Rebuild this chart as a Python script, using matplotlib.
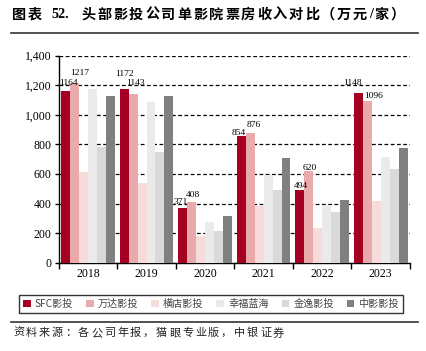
import matplotlib.pyplot as plt
import numpy as np
from matplotlib.lines import Line2D

years = ['2018', '2019', '2020', '2021', '2022', '2023']
companies = ['SFC影投', '万达影投', '横店影投', '幸福蓝海', '金逸影投', '中影影投']
sfc = [1164, 1172, 371, 854, 494, 1148]
wanda = [1217, 1143, 408, 876, 620, 1096]
hengdian = [615, 539, 178, 383, 237, 415]
xingfu = [1175, 1086, 273, 593, 392, 714]
jinyi = [784, 748, 214, 491, 343, 636]
zhongying = [1129, 1129, 316, 706, 424, 777]
colors = ['#A50021', '#E8AAAA', '#F7DADA', '#EAEAEA', '#D9D9D9', '#808080']

# label nudges (pixels) so the value labels don't collide, as in the original
sfc_nudge = [(3, 6), (0, 13), (-2, 4), (-2, 1), (1, 2), (-6, 8)]
wanda_nudge = [(5, 8), (2, 9), (1, 5), (4, 6), (1, 1), (6, 3)]

W, H = 427, 351
fig = plt.figure(figsize=(W / 100, H / 100), dpi=100)
ax = fig.add_axes([58.7 / W, 1 - 262.7 / H, (410 - 58.7) / W, (262.7 - 55.7) / H])

serif = ['Liberation Serif', 'Noto Sans CJK SC']
cjk = ['Noto Sans CJK SC', 'DejaVu Sans']


def spaced_text(x, y, s, pitch, **kw):
    # draw a string char by char on a whole-pixel pitch; x, y in figure pixels
    r = fig.canvas.get_renderer()
    for ch in s:
        t = fig.text(x / W, 1 - y / H, ch, va='center', ha='left', **kw)
        if ord(ch) > 0x2E80:
            x += pitch
        else:
            x += round(t.get_window_extent(r).width) + 1
    return x


series = [sfc, wanda, hengdian, xingfu, jinyi, zhongying]
x = np.arange(len(years))
bw = 0.153
bars = []
for i, vals in enumerate(series):
    off = (i - 2.5) * bw
    bars.append(ax.bar(x + off, vals, bw, color=colors[i], label=companies[i], zorder=3))

for j in range(len(years)):
    ax.annotate(str(sfc[j]), (x[j] - 2.5 * bw, sfc[j]), xytext=sfc_nudge[j],
                textcoords='offset pixels', ha='center', va='baseline',
                fontsize=6.8, family=serif, zorder=4)
    ax.annotate(str(wanda[j]), (x[j] - 1.5 * bw, wanda[j]), xytext=wanda_nudge[j],
                textcoords='offset pixels', ha='center', va='baseline',
                fontsize=6.8, family=serif, zorder=4)

ax.set_xlim(-0.5, 5.5)
ax.set_ylim(0, 1400)
ax.set_yticks(range(0, 1401, 200))
ax.set_yticklabels(['{:,}'.format(v) for v in range(0, 1401, 200)], family=serif, fontsize=8.5)
ax.set_xticks(np.arange(-0.5, 6, 1))
ax.set_xticklabels([])
ax.set_xticks(x, minor=True)
ax.set_xticklabels(years, minor=True, family=serif, fontsize=8.5)
ax.tick_params(axis='x', which='minor', length=0, pad=4)
ax.tick_params(axis='x', which='major', direction='out', length=4, width=1)
ax.tick_params(axis='y', direction='out', length=3, width=1, pad=2)
ax.grid(axis='y', color='black', linestyle=(0, (3, 2)), linewidth=0.9, zorder=0)
ax.set_axisbelow(True)
for s in ['top', 'right']:
    ax.spines[s].set_visible(False)
ax.spines['left'].set_linewidth(1)
ax.spines['bottom'].set_linewidth(1)

# title
tkw = dict(fontsize=10.2, fontweight='bold', family=serif)
spaced_text(12, 15, '图表', 16, **tkw)
fig.text(51.5 / W, 1 - 15 / H, '52.', va='center', ha='left', **tkw)
spaced_text(81, 15, '头部影投公司单影院票房收入对比（万元/家）', 16, **tkw)
fig.add_artist(Line2D([11 / W, 418 / W], [1 - 33 / H] * 2, color='#333333', lw=1.2))
fig.add_artist(Line2D([11 / W, 418 / W], [1 - 322 / H] * 2, color='#333333', lw=1.2))

leg = fig.legend(handles=bars, labels=companies, loc='center',
                 bbox_to_anchor=(19 / W, 1 - 314 / H, (403 - 19) / W, 20 / H),
                 mode='expand', ncol=6, frameon=True, fancybox=False,
                 handlelength=0.75, handleheight=0.75, handletextpad=0.4,
                 columnspacing=0.8, borderaxespad=0, prop={'family': cjk, 'size': 7.3})
leg.get_frame().set_edgecolor('black')
leg.get_frame().set_linewidth(1)
for t in leg.get_texts():
    t.set_color('#444444')

spaced_text(13, 333, '资料来源：各公司年报，猫眼专业版，中银证券', 13,
            fontsize=8, family=cjk, color='#222222')

fig.savefig('out.png', dpi=100)
